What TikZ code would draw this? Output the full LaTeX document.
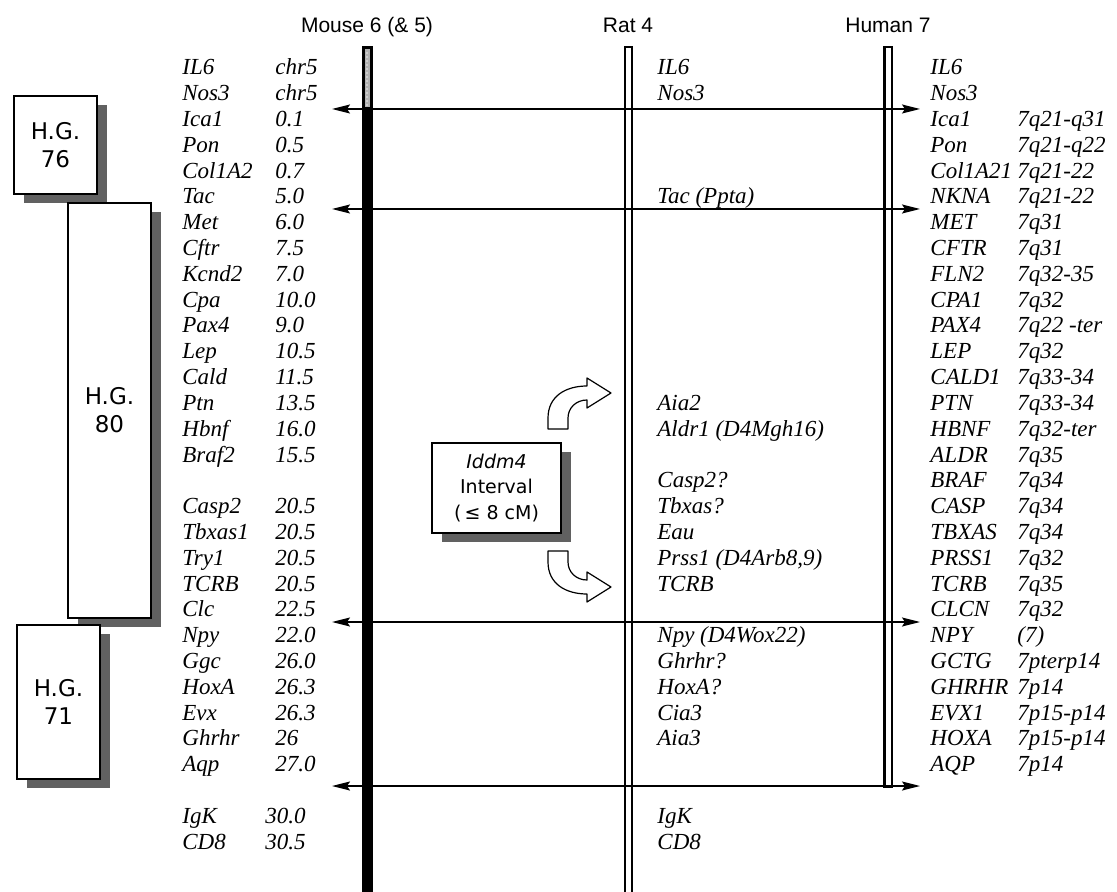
\documentclass[tikz,border=0pt]{standalone}
\usepackage{fontspec}
\setmainfont{Liberation Serif}
\newfontfamily\arialf{Liberation Sans}
\newfontfamily\verdf{DejaVu Sans}
\usetikzlibrary{arrows.meta,shadows}
\tikzset{
  gene/.style={anchor=base west, inner sep=0pt, font=\fontsize{11.5}{13}\selectfont\itshape},
  ttl/.style={anchor=base, inner sep=0pt, font=\arialf\fontsize{10.5}{12}\selectfont},
  hgbox/.style={draw, line width=0.7pt, fill=white, align=center, inner sep=0pt,
     font=\verdf\fontsize{11.5}{14}\selectfont,
     drop shadow={shadow xshift=5pt, shadow yshift=-4.5pt, fill=black!62, opacity=1}},
  link/.style={line width=0.8pt, {Stealth[length=9pt,width=4.5pt,inset=1.5pt]}-{Stealth[length=9pt,width=4.5pt,inset=1.5pt]}},
  barline/.style={line width=1.1pt},
  blockarrow/.style={draw, line width=0.6pt, fill=white, line join=round}
}
\begin{document}
\begin{tikzpicture}[x=0.5pt,y=-0.5pt]
\useasboundingbox (0,0) rectangle (1117,892);

% titles
\node[ttl] (tm) at (367,33) {Mouse 6 (\& 5)};
\node[ttl] (tr) at (628,33) {Rat 4};
\node[ttl] (th) at (888,33) {Human 7};

% chromosome bars
\fill (361.5,46) rectangle (372.5,892);
\fill[gray!60] (364.5,49.5) rectangle (369.5,107);
\foreach \k in {0,...,13} {\fill[gray!15] (367,{53+4*\k}) circle (0.8);}
\draw[barline] (625,892) -- (625,47) -- (632,47) -- (632,892);
\draw[barline] (884.5,47) rectangle (892,787);

% mouse genes
\foreach \r/\g/\v in {0/IL6/chr5,1/Nos3/chr5,2/Ica1/0.1,3/Pon/0.5,4/Col1A2/0.7,5/Tac/5.0,
  6/Met/6.0,7/Cftr/7.5,8/Kcnd2/7.0,9/Cpa/10.0,10/Pax4/9.0,11/Lep/10.5,12/Cald/11.5,
  13/Ptn/13.5,14/Hbnf/16.0,15/Braf2/15.5,17/Casp2/20.5,18/Tbxas1/20.5,19/Try1/20.5,
  20/TCRB/20.5,21/Clc/22.5,22/Npy/22.0,23/Ggc/26.0,24/HoxA/26.3,25/Evx/26.3,
  26/Ghrhr/26,27/Aqp/27.0}
{
  \node[gene] (mg\r) at (182,{75+25.8*\r}) {\g};
  \node[gene] (mv\r) at (275,{75+25.8*\r}) {\v};
}
\node[gene] (mg29) at (182,{75+25.8*29}) {IgK};
\node[gene] (mv29) at (265,{75+25.8*29}) {30.0};
\node[gene] (mg30) at (182,{75+25.8*30}) {CD8};
\node[gene] (mv30) at (265,{75+25.8*30}) {30.5};

% rat genes
\foreach \r/\g in {0/IL6,1/Nos3,5/{Tac (Ppta)},13/Aia2,14/{Aldr1 (D4Mgh16)},16/Casp2?,
  17/Tbxas?,18/Eau,19/{Prss1 (D4Arb8,9)},20/TCRB,22/{Npy (D4Wox22)},23/Ghrhr?,
  24/HoxA?,25/Cia3,26/Aia3,29/IgK,30/CD8}
{
  \node[gene] (rg\r) at (657,{75+25.8*\r}) {\g};
}

% human genes
\node[gene] (hg0) at (930,75) {IL6};
\node[gene] (hg1) at (930,{75+25.8}) {Nos3};
\foreach \r/\g/\v in {2/Ica1/7q21-q31,3/Pon/7q21-q22,4/Col1A21/7q21-22,5/NKNA/7q21-22,
  6/MET/7q31,7/CFTR/7q31,8/FLN2/7q32-35,9/CPA1/7q32,10/PAX4/7q22 -ter,11/LEP/7q32,
  12/CALD1/7q33-34,13/PTN/7q33-34,14/HBNF/7q32-ter,15/ALDR/7q35,16/BRAF/7q34,
  17/CASP/7q34,18/TBXAS/7q34,19/PRSS1/7q32,20/TCRB/7q35,21/CLCN/7q32,22/NPY/(7),
  23/GCTG/7pterp14,24/GHRHR/7p14,25/EVX1/7p15-p14,26/HOXA/7p15-p14,27/AQP/7p14}
{
  \node[gene] (hg\r) at (930,{75+25.8*\r}) {\g};
  \node[gene] (hv\r) at (1017,{75+25.8*\r}) {\v};
}

% homology links
\coordinate (la) at (332,109);  \coordinate (ra) at (920,109);
\coordinate (lb) at (332,209);  \coordinate (rb) at (920,209);
\coordinate (lc) at (332,622);  \coordinate (rc) at (920,622);
\coordinate (ld) at (332,786);  \coordinate (rd) at (920,786);
\draw[link] (la) -- (ra);
\draw[link] (lb) -- (rb);
\draw[link] (lc) -- (rc);
\draw[link] (ld) -- (rd);

% homology group boxes
\node[hgbox, minimum width=41.5pt, minimum height=49pt] (hg76) at (55.5,145) {H.G.\\76};
\node[hgbox, minimum width=41.5pt, minimum height=207.5pt] (hg80) at (109.5,410.5) {H.G.\\80};
\node[hgbox, minimum width=41.5pt, minimum height=77pt] (hg71) at (58.5,702) {H.G.\\71};

% Iddm4 interval box
\node[hgbox, minimum width=64.5pt, minimum height=45pt, font=\verdf\fontsize{9.5}{12.7}\selectfont] (iddm) at (496.5,488)
  {\textit{Iddm4}\\Interval\\(\,≤ 8 cM)};

% curved block arrows
\draw[blockarrow] (548,429) -- (548,418) .. controls (548,396) and (566,386) .. (587,386)
  -- (587,378) -- (611,393) -- (587,408) -- (587,400)
  .. controls (576,400) and (568,408) .. (568,418) -- (568,429) -- cycle;
\draw[blockarrow] (548,551) -- (548,562) .. controls (548,584) and (566,594) .. (587,594)
  -- (587,602) -- (611,587) -- (587,572) -- (587,580)
  .. controls (576,580) and (568,572) .. (568,562) -- (568,551) -- cycle;
\end{tikzpicture}
\end{document}
